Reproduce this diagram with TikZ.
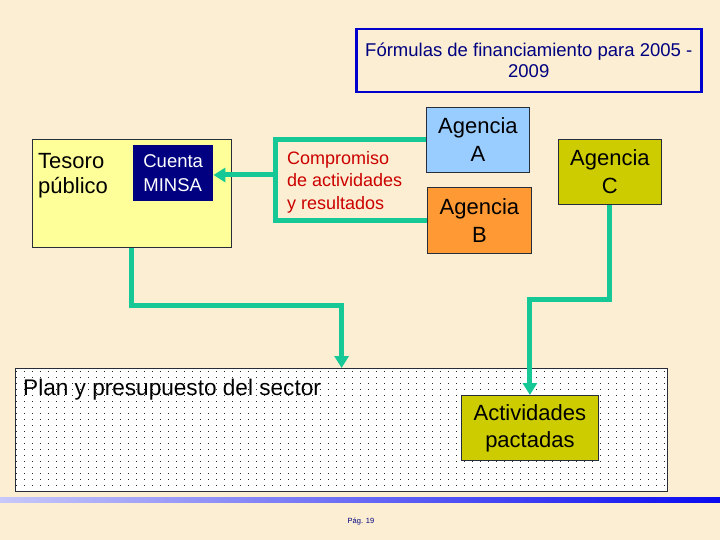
\documentclass[tikz,border=0pt]{standalone}
\usepackage{fontspec}
\setmainfont{Liberation Sans}
\usetikzlibrary{arrows.meta,patterns}
\pgfdeclarepatternformonly{pdots}{\pgfqpoint{-0.5pt}{-0.5pt}}{\pgfqpoint{8.5pt}{6.5pt}}{\pgfqpoint{8pt}{6pt}}{\pgfpathrectangle{\pgfpointorigin}{\pgfqpoint{0.9pt}{0.9pt}}\pgfusepath{fill}}
\definecolor{bgc}{RGB}{251,238,210}
\definecolor{tyellow}{RGB}{255,255,153}
\definecolor{navyc}{RGB}{0,0,128}
\definecolor{agA}{RGB}{153,204,255}
\definecolor{agB}{RGB}{255,153,51}
\definecolor{agC}{RGB}{204,204,0}
\definecolor{redc}{RGB}{204,0,0}
\definecolor{titleb}{RGB}{0,0,204}
\definecolor{greenc}{RGB}{22,200,150}
\definecolor{edgec}{RGB}{40,45,60}
\definecolor{lav}{RGB}{200,200,250}
\definecolor{barblue}{RGB}{10,10,240}
\definecolor{dotc}{RGB}{40,40,40}
\tikzset{
  box/.style={draw=edgec, line width=0.8pt, inner sep=0pt, anchor=north west},
  agency/.style={box, align=center, minimum width=103, minimum height=65, font=\fontsize{22}{28}\selectfont},
  conn/.style={draw=greenc, line width=5pt},
  connarrow/.style={conn, -{Triangle[width=14pt,length=12pt]}},
}
\begin{document}
\begin{tikzpicture}[x=1pt,y=-1pt]
\useasboundingbox (0,0) rectangle (720,540);
\fill[bgc] (0,0) rectangle (720,540);

% title
\node[draw=titleb, line width=2.5pt, anchor=north west, minimum width=345, minimum height=63, inner sep=0pt,
      align=center, text=navyc, font=\fontsize{18.5}{21}\selectfont] (title) at (355,28)
      {Fórmulas de financiamiento para 2005 -\\2009};

% tesoro
\node[box, fill=tyellow, minimum width=199, minimum height=108] (tesoro) at (32,139) {};
\node[anchor=north west, inner sep=0pt, align=left, font=\fontsize{22}{25}\selectfont] (tesorotxt)
      at ([shift={(6,14)}]tesoro.north west) {Tesoro\\público};
\node[anchor=north west, fill=navyc, minimum width=80, minimum height=56, inner sep=0pt, align=left,
      text=white, font=\fontsize{18.5}{24}\selectfont] (cuenta) at (133,145) {Cuenta\\MINSA};

% compromiso
\node[anchor=north west, inner sep=0pt, align=left, text=redc, font=\fontsize{18}{22.5}\selectfont] (comp)
      at (287,151) {Compromiso\\de actividades\\y resultados};

% agencies
\node[agency, fill=agA] (A) at (426,107) {Agencia\\A};
\node[agency, fill=agB, minimum width=104, minimum height=66] (B) at (427,187) {Agencia\\B};
\node[agency, fill=agC] (C) at (558,139) {Agencia\\C};

% plan box
\node[draw=edgec, line width=1.2pt, fill=white, postaction={pattern=pdots, pattern color=dotc},
      anchor=north west, minimum width=652, minimum height=123, inner sep=0pt] (plan) at (15,368) {};
\node[anchor=base west, inner sep=0pt, font=\fontsize{22.6}{26}\selectfont] (plantxt)
      at ([shift={(8,27)}]plan.north west) {Plan y presupuesto del sector};
\node[box, agency, fill=agC, minimum width=137, minimum height=65, font=\fontsize{22}{27}\selectfont] (act)
      at (461,395) {Actividades\\pactadas};

% connectors
\coordinate (bx) at (275,175);
\coordinate (t1) at (0,305);
\coordinate (c1) at (0,299);
\draw[conn] (A.west) -- (A.west -| bx) |- (B.west);
\draw[connarrow] (bx) -- (bx -| cuenta.east);
\draw[connarrow] (tesoro.south) -- (tesoro.south |- t1) -| (plan.north);
\draw[connarrow] (C.south) -- (C.south |- c1) -| (act.north);

% bottom bar
\shade[left color=lav, right color=barblue] (0,497) rectangle (720,502);
\node[text=navyc, font=\fontsize{7.5}{9}\selectfont, inner sep=0pt] (pag) at (361,522) {Pág. 19};
\end{tikzpicture}
\end{document}
